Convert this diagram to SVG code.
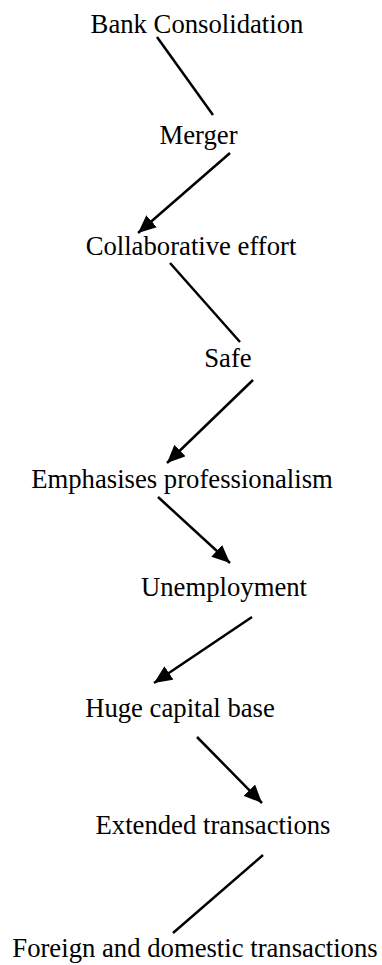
<svg xmlns="http://www.w3.org/2000/svg" width="382" height="965" viewBox="0 0 382 965">
<style>
.t{font-size:26.7px;fill:#000;text-anchor:middle}
.c{stroke:#000;stroke-width:2.5;fill:none}
</style>
<defs>
<marker id="ah" markerUnits="userSpaceOnUse" markerWidth="18" markerHeight="16" viewBox="0 0 18 16" refX="18" refY="8" orient="auto">
<path d="M0,0 L18,8 L0,16 z" fill="#000"/>
</marker>
</defs>
<rect width="382" height="965" fill="#fff"/>
<g id="connectors">
<line class="c" x1="157" y1="37" x2="213" y2="115"/>
<line class="c" x1="230" y1="153" x2="138" y2="233" marker-end="url(#ah)"/>
<line class="c" x1="170" y1="263" x2="240" y2="342"/>
<line class="c" x1="253" y1="380" x2="167" y2="463" marker-end="url(#ah)"/>
<line class="c" x1="158" y1="497" x2="230" y2="563" marker-end="url(#ah)"/>
<line class="c" x1="252" y1="617" x2="154" y2="683" marker-end="url(#ah)"/>
<line class="c" x1="197" y1="737" x2="262" y2="803" marker-end="url(#ah)"/>
<line class="c" x1="263" y1="855" x2="173" y2="933"/>
</g>
<g font-family="Liberation Serif, Times New Roman, DejaVu Serif, serif">
<g id="n1"><text class="t" x="197" y="33">Bank Consolidation</text></g>
<g id="n2"><text class="t" x="198.5" y="144">Merger</text></g>
<g id="n3"><text class="t" x="191" y="255">Collaborative effort</text></g>
<g id="n4"><text class="t" x="228" y="367">Safe</text></g>
<g id="n5"><text class="t" x="182" y="488">Emphasises professionalism</text></g>
<g id="n6"><text class="t" x="224" y="596">Unemployment</text></g>
<g id="n7"><text class="t" x="180" y="717">Huge capital base</text></g>
<g id="n8"><text class="t" x="213" y="834">Extended transactions</text></g>
<g id="n9"><text class="t" x="195" y="957">Foreign and domestic transactions</text></g>
</g>
</svg>
